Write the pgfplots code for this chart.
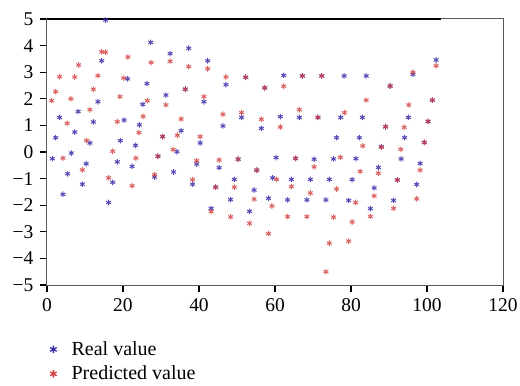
\documentclass[border=0pt]{standalone}
\usepackage{fontspec}
\setmainfont{Liberation Serif}
\usepackage{pgfplots}
\pgfplotsset{compat=1.18}
\definecolor{realc}{RGB}{55,45,170}
\definecolor{predc}{RGB}{210,60,60}
\begin{document}
\begin{tikzpicture}
\begin{axis}[
  name=ax,
  scale only axis,
  width=456pt, height=266pt,
  xmin=0, xmax=120, ymin=-5, ymax=5,
  xtick={0,20,...,120}, ytick={-5,-4,...,5},
  xticklabels={0,20,40,60,80,100,120},
  yticklabels={−5,−4,−3,−2,−1,0,1,2,3,4,5},
  tick align=outside, tick pos=left,
  major tick length=7pt,
  tick style={black, line width=1.2pt},
  axis line style={black!65, line width=1pt},
  tick label style={font=\fontsize{19.5}{22}\selectfont},
  xticklabel style={yshift=-3pt},
  yticklabel style={xshift=-3pt},
  clip=false,
  legend style={at={(axis description cs:0,-0.205)}, anchor=north west,
    draw=none, fill=none, font=\fontsize{20}{22}\selectfont,
    row sep=5pt, inner xsep=0pt, inner ysep=0pt, cells={anchor=west}},
  legend image code/.code={\path (0pt,0pt) (22pt,0pt); \draw[#1, mark size=3.8pt, mark options={opacity=1, line width=1.3pt}] plot coordinates {(6pt,0pt)};},
]
% top black line
\addplot[black, line width=2.4pt, forget plot] coordinates {(0,5) (103.7,5)};
\addplot[only marks, mark=asterisk, mark size=2.8pt, color=realc, mark options={line width=1pt, opacity=0.85}] coordinates {
(1.4,-0.25)(2.3,0.54)(3.3,1.30)(4.2,-1.59)(5.4,-0.82)(6.4,-0.04)(7.3,0.75)(8.2,1.52)(9.3,-1.21)(10.3,-0.44)
(11.3,0.34)(12.2,1.13)(13.4,1.89)(14.4,3.43)(15.4,4.96)(16.2,-1.90)(17.3,-1.14)(18.5,-0.37)(19.3,0.43)(20.3,1.20)
(21.2,2.75)(22.4,-0.54)(23.3,0.25)(24.3,1.02)(25.2,1.79)(26.3,2.57)(27.3,4.12)(28.3,-0.94)(29.2,-0.16)(30.4,0.58)
(31.3,2.14)(32.4,3.70)(33.3,-0.75)(34.2,0.01)(35.3,0.80)(36.4,2.36)(37.3,3.90)(38.3,-1.21)(39.4,-0.45)(40.3,0.34)
(41.3,1.89)(42.3,3.43)(43.2,-2.12)(44.4,-1.32)(45.3,-0.59)(46.3,0.98)(47.1,2.53)(48.3,-1.79)(49.3,-1.03)(50.3,-0.27)
(51.2,1.30)(52.3,2.81)(53.3,-2.23)(54.5,-1.43)(55.2,-0.68)(56.4,0.89)(57.3,2.41)(58.3,-1.74)(59.4,-0.97)(60.3,-0.21)
(61.4,1.33)(62.3,2.88)(63.3,-1.80)(64.3,-1.03)(65.4,-0.24)(66.4,1.30)(67.2,2.86)(68.4,-1.80)(69.3,-1.03)(70.3,-0.27)
(71.3,1.30)(72.3,2.86)(73.4,-1.80)(74.3,-1.03)(75.4,-0.26)(76.2,0.54)(77.3,1.30)(78.2,2.86)(79.4,-1.82)(80.3,-1.04)
(81.3,-0.25)(82.2,0.54)(83.0,1.30)(84.0,2.86)(85.1,-2.13)(86.1,-1.35)(87.2,-0.58)(88.0,0.20)(89.1,0.95)(90.3,2.48)
(91.2,-1.82)(92.2,-1.05)(93.2,-0.26)(94.1,0.54)(95.1,1.30)(96.3,2.92)(97.3,-1.22)(98.2,-0.43)(99.3,0.36)(100.3,1.15)
(101.4,1.95)(102.4,3.46)
};
\addlegendentry{Real value}
\addplot[only marks, mark=asterisk, mark size=2.8pt, color=predc, mark options={line width=1pt, opacity=0.8}] coordinates {
(1.2,1.93)(2.3,2.27)(3.3,2.83)(4.2,-0.23)(5.3,1.08)(6.3,2.00)(7.3,2.82)(8.3,3.27)(9.3,-0.67)(10.4,0.43)
(11.3,1.59)(12.2,2.36)(13.4,2.87)(14.4,3.77)(15.4,3.75)(16.2,-0.97)(17.3,0.03)(18.5,1.14)(19.2,2.08)(20.2,2.78)
(21.3,3.57)(22.4,-1.27)(23.4,-0.23)(24.2,0.73)(25.3,1.34)(26.4,1.93)(27.4,3.36)(28.3,-0.85)(29.2,-0.16)(30.4,0.58)
(31.3,1.77)(32.4,3.41)(33.2,0.09)(34.3,0.63)(35.3,1.24)(36.4,2.36)(37.3,3.21)(38.3,-1.04)(39.4,-0.33)(40.3,0.58)
(41.3,2.08)(42.3,3.13)(43.2,-2.24)(44.4,-1.32)(45.3,-0.30)(46.3,1.42)(47.1,2.82)(48.3,-2.44)(49.3,-1.32)(50.3,-0.27)
(51.2,1.48)(52.3,2.81)(53.3,-2.68)(54.5,-1.77)(55.2,-0.68)(56.4,1.23)(57.3,2.41)(58.3,-3.07)(59.2,-2.03)(60.4,-1.03)
(61.4,0.94)(62.3,2.47)(63.3,-2.43)(64.3,-1.30)(65.4,-0.24)(66.4,1.59)(67.2,2.86)(68.4,-2.43)(69.3,-1.54)(70.3,-0.56)
(71.3,1.30)(72.3,2.86)(73.4,-4.50)(74.3,-3.43)(75.4,-2.45)(76.2,-1.39)(77.2,-0.20)(78.3,1.48)(79.4,-3.35)(80.3,-2.63)
(81.2,-1.90)(82.4,-0.73)(83.1,0.23)(84.0,1.95)(85.1,-2.42)(86.1,-1.65)(87.2,-0.80)(88.0,0.18)(89.1,0.95)(90.3,2.48)
(91.2,-2.12)(92.2,-1.05)(93.1,0.10)(94.0,0.93)(95.2,1.77)(96.3,3.00)(97.3,-1.76)(98.2,-0.68)(99.3,0.36)(100.3,1.15)
(101.4,1.95)(102.4,3.24)
};
\addlegendentry{Predicted value}
\end{axis}
\pgfresetboundingbox
\path ([xshift=-47pt,yshift=-100pt]ax.south west) rectangle ([xshift=17pt,yshift=19pt]ax.north east);
\end{tikzpicture}
\end{document}
